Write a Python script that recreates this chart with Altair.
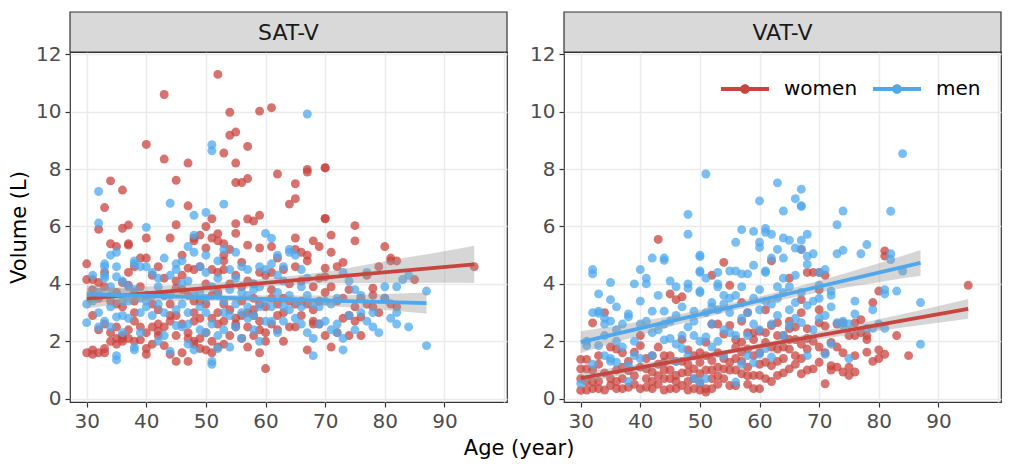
import altair as alt
import pandas as pd

RED = "#C8443F"
BLUE = "#4FA8EC"
FONT = "DejaVu Sans"

panels = ["SAT-V", "VAT-V"]
sexes = ["women", "men"]

sat_women = [
    (30,4.7),(30,4.15),(31,4.15),(32,4.05),(30,1.6),(31,1.7),(32,1.6),(33,1.75),(31,1.55),(33,1.6),
    (32,2.4),(33,2.6),(34,2.3),(35,2.1),(34,3.4),(33,3.9),(32,3.5),(35,2.5),(32,5.9),(33,6.66),
    (34,7.59),(31,2.9),(35,3.3),(34,2.0),(36,5.94),(37,6.05),(36,7.27),(37,5.4),(37,5.35),(36,4.05),
    (37,3.95),(38,2.7),(38,3.0),(37,2.4),(36,2.2),(37,2.1),(38,2.0),(39,2.05),(39,4.9),(38,4.6),
    (36,2.1),(39,3.9),(38,3.4),(35,1.9),(36,2.0),(35,5.3),
    (40,8.86),(40,5.6),(40,4.9),(41,4.3),(40,2.3),(40,1.55),(40,1.75),(41,1.9),(42,2.2),(42,2.6),
    (43,8.35),(43,10.6),(42,3.1),(43,3.6),(44,2.9),(44,1.55),(43,1.85),(44,5.6),(42,2.35),(41,3.3),
    (45,3.85),(45,4.1),(45,2.2),(45,1.3),(45,7.61),(45,6.06),(44,2.7),(43,2.5),(46,5.0),(46,1.6),
    (47,1.3),(47,2.1),(47,2.3),(48,1.9),(48,2.0),(48,2.7),(49,2.1),(47,8.21),(47,6.72),(48,5.5),
    (48,5.6),(49,5.7),(49,3.4),(48,4.5),(47,4.55),(46,2.6),(49,2.8),(49,1.75),(46,3.8),(48,3.0),
    (50,1.7),(50,2.3),(50,4.0),(50,6.0),(50,5.25),(51,6.27),(51,5.6),(52,5.75),(52,5.5),(52,11.3),
    (53,8.56),(53,5.4),(53,5.0),(53,4.8),(53,4.5),(52,4.4),(51,4.5),(51,3.6),(52,3.0),(53,2.7),
    (51,2.0),(51,1.6),(52,2.6),(53,1.9),(54,9.18),(54,9.98),(55,9.29),(55,8.21),(55,7.53),(56,7.53),
    (55,6.1),(55,5.76),(54,4.0),(54,3.1),(54,2.2),(55,2.6),(55,2.8),(55,2.5),(52,1.8),(57,8.79),
    (57,7.67),(57,6.26),(58,6.19),(59,6.39),(59,10.02),(57,5.35),(56,4.75),(57,4.1),(57,2.5),(56,2.1),
    (57,1.8),(58,3.1),(58,2.9),(59,2.7),(59,2.4),(59,1.6),(58,3.5),(56,3.9),(59,5.25),(58,4.0),
    (59,3.3),(56,2.9),
    (61,10.14),(60,1.05),(60,2.0),(60,2.3),(61,2.6),(62,2.4),(62,3.3),(61,5.3),(62,7.83),(61,3.8),
    (63,2.0),(64,2.5),(64,6.78),(65,7.49),(65,6.97),(65,5.6),(65,5.2),(65,4.6),(65,3.3),(64,4.0),
    (63,3.5),(62,4.9),(60,4.3),(61,3.5),(67,7.99),(67,7.9),(66,3.4),(66,4.1),(67,1.7),(68,2.7),
    (68,2.6),(69,2.6),(68,5.5),(69,5.3),(67,5.0),(67,4.8),(70,8.05),(70,8.04),(70,6.28),(70,6.27),
    (70,4.55),(70,4.25),(70,3.7),(70,2.2),(68,3.9),(69,3.4),(63,3.0),(66,2.9),
    (71,5.7),(71,5.1),(71,1.8),(72,4.6),(72,2.3),(73,4.75),(73,3.5),(74,2.2),(74,2.9),(75,6.03),
    (75,5.5),(75,3.2),(75,2.7),(76,2.2),(76,2.85),(76,3.5),(78,3.6),(78,3.85),(78,3.2),(79,4.6),
    (80,5.3),(80,3.5),(81,4.9),(81,4.8),(82,4.8),(81,3.3),(77,3.3),(85,4.15),(95,4.6),(82,3.2),
    (31,3.8),(33,4.4),(34,5.4),(35,3.7),(36,3.2),(37,4.4),(38,3.7),(39,2.5),(40,3.6),(41,2.5),
    (42,4.6),(43,4.2),(44,3.3),(45,2.9),(46,4.3),(47,3.6),(48,3.4),(49,4.6),(50,3.3),(51,2.8),
    (52,3.7),(53,3.3),(54,5.2),(55,4.3),(56,3.4),(57,3.0),(58,2.2),(59,4.4),(60,3.2),(61,4.4),
    (62,2.9),(63,4.5),(64,3.4),(65,2.5),(66,5.1),(67,3.3),(68,3.1),(69,4.2),(71,3.9),(72,3.4),
    (73,2.8),(74,3.8),(77,4.3),(79,3.0),
]

sat_men = [
    (30,2.65),(31,3.4),(32,7.22),(32,6.12),(32,3.0),(32,2.5),(33,4.3),(33,4.7),(33,4.6),(33,4.2),
    (34,5.0),(34,3.6),(34,3.2),(35,4.6),(35,4.25),(35,5.1),(35,1.5),(35,1.35),(35,2.85),(31,3.5),
    (33,2.7),(34,2.5),(32,3.7),
    (36,4.1),(36,3.4),(37,3.9),(38,4.8),(38,4.7),(38,1.7),(38,1.8),(38,3.8),(39,4.6),(39,3.5),
    (40,5.97),(40,4.6),(40,3.4),(37,2.8),(36,2.3),(39,2.3),(40,3.2),
    (41,4.4),(42,4.2),(42,3.9),(42,2.0),(43,3.0),(43,2.2),(44,6.81),(44,3.6),(44,1.65),(45,4.7),
    (45,4.5),(45,3.1),(45,2.55),(43,4.9),(41,2.9),(42,3.3),
    (46,4.0),(46,2.5),(47,5.3),(47,3.0),(47,2.6),(48,5.7),(48,5.1),(48,3.6),(48,6.39),(48,1.7),
    (49,2.4),(49,4.6),(50,6.49),(50,5.0),(50,4.4),(50,3.0),(50,2.3),(46,3.3),(49,3.2),(47,1.9),
    (51,8.85),(51,8.64),(51,1.3),(51,1.2),(52,2.2),(52,1.75),(52,3.6),(53,6.78),(53,5.2),(53,3.4),
    (53,2.4),(54,3.8),(54,1.8),(55,3.3),(55,4.2),(55,5.1),(52,4.8),(54,2.9),(51,3.9),
    (56,2.1),(56,3.0),(57,3.6),(57,2.8),(58,4.0),(58,2.4),(59,4.6),(59,3.2),(59,2.0),(60,5.76),
    (60,4.5),(60,3.4),(60,2.7),(56,4.6),(58,3.8),(57,4.5),
    (61,5.59),(61,4.7),(61,2.7),(62,5.0),(62,3.7),(63,4.6),(63,3.2),(64,5.2),(64,5.1),(64,3.1),
    (65,5.0),(65,2.8),(62,2.3),(63,4.1),
    (66,2.6),(66,4.5),(67,9.92),(67,3.6),(67,2.3),(68,3.3),(68,2.1),(68,1.5),(69,3.2),(70,2.7),
    (70,3.4),(66,3.9),
    (71,2.4),(72,2.6),(72,2.3),(73,2.1),(73,1.7),(73,4.4),(74,4.1),(75,3.8),(75,2.4),(76,3.6),
    (77,4.4),(78,3.0),(78,2.5),(79,2.3),(81,2.8),(82,3.9),(82,3.0),(82,2.6),(83,4.15),(84,4.3),
    (84,2.5),(87,3.75),(87,1.85),(80,3.5),
    (30,3.3),(31,4.3),(34,3.9),(36,2.9),(37,3.4),(39,3.0),(41,3.6),(43,3.6),(44,4.3),(46,4.8),
    (47,4.1),(49,3.7),(50,3.5),(51,2.6),(52,4.2),(53,3.0),(54,4.5),(55,2.5),(56,3.7),(57,3.2),
    (58,2.9),(59,3.9),(61,3.2),(62,4.3),(63,2.7),(64,3.6),(65,3.4),(66,3.2),(67,4.2),(69,2.6),
    (71,3.3),(72,3.5),(74,2.9),(76,3.0),(77,2.7),(80,3.9),
]

vat_women = [
    (30,0.29),(30,0.7),(30,1.04),(30,1.37),(31,1.37),(31,1.04),(32,0.35),(33,0.35),(32,0.58),(32,2.64),
    (33,1.5),(34,3.0),(35,0.46),(36,0.35),(37,0.35),(36,1.73),(37,0.7),(37,1.6),(38,0.98),(39,1.62),
    (40,0.35),(40,1.85),(40,2.2),(41,0.7),(41,1.04),(42,0.35),(42,0.93),(43,5.55),(43,1.8),(43,1.2),
    (44,0.7),(44,1.27),(44,1.5),(45,0.35),(45,0.7),(45,3.65),(46,3.45),(46,0.35),(46,0.81),(47,3.55),
    (47,2.06),(47,0.46),(48,0.93),(48,1.2),(49,0.35),(49,0.7),(49,1.04),(49,1.5),(50,0.87),(50,1.27),
    (51,0.23),(51,0.35),(51,1.97),(52,4.3),(52,2.6),(52,1.33),(53,2.6),(53,1.1),(54,4.75),(54,2.25),
    (54,1.04),(55,3.95),(55,2.55),(55,1.27),(55,0.46),(56,2.06),(56,0.46),(57,3.35),(57,2.7),(57,1.97),
    (57,1.62),(57,0.87),(58,3.0),(58,2.3),(58,1.73),(59,2.3),(59,2.06),(59,0.81),(59,0.35),(60,2.35),
    (60,0.81),(60,0.35),(61,3.1),(61,1.96),(61,1.27),(61,0.7),(62,4.8),(62,2.55),(62,1.15),(63,2.65),
    (63,1.73),(63,0.81),(64,1.4),(64,2.2),(65,4.2),(65,2.7),(65,2.44),(65,2.06),(65,1.73),(65,1.04),
    (66,2.06),(66,1.5),(67,5.2),(67,3.45),(67,3.0),(67,1.4),(67,0.87),(68,4.4),(68,2.44),(68,1.73),
    (69,4.4),(69,1.04),(70,4.4),(70,3.8),(70,3.1),(70,2.64),(70,1.27),(71,4.3),(71,2.53),(71,0.52),
    (72,1.96),(72,1.15),(73,1.1),(74,2.64),(74,0.93),(75,2.2),(75,0.81),(76,2.64),(76,1.5),(76,0.93),
    (77,2.75),(77,2.3),(78,2.06),(78,1.62),(79,3.35),(80,3.75),(80,1.7),(80,1.4),(81,5.15),(81,4.97),
    (81,1.55),(83,2.2),(85,1.5),(95,3.95),
    (31,0.3),(33,0.6),(34,0.3),(34,0.9),(35,1.8),(36,1.0),(38,0.4),(38,1.3),(39,0.5),(41,0.4),
    (42,1.5),(43,0.5),(44,0.3),(45,1.0),(46,1.3),(47,0.9),(48,0.3),(48,0.6),(50,0.3),(50,0.55),
    (51,1.0),(52,0.7),(52,0.35),(53,0.5),(53,1.6),(54,0.7),(56,1.0),(56,1.4),(58,0.5),(58,1.1),
    (59,1.5),(60,1.2),(62,0.6),(62,1.8),(63,2.2),(64,0.9),(66,1.2),(68,1.0),(69,2.0),(72,1.0),
    (73,2.6),(75,1.1),(76,2.2),(78,2.2),(79,1.3),
    (31,0.6),(32,1.0),(33,1.2),(35,0.7),(36,0.6),(37,1.1),(39,0.8),(40,1.1),(41,1.4),(42,0.6),
    (43,0.8),(44,1.0),(45,1.5),(46,0.6),(47,1.3),(48,1.7),(50,1.6),(51,1.5),(52,1.0),(53,0.8),
    (54,1.4),(55,1.0),(56,1.8),(57,1.3),(58,0.8),(60,1.6),(61,2.3),(63,1.3),(64,1.8),(66,2.5),
    (67,1.9),(68,2.1),(70,1.8),(71,1.6),(73,1.8),(74,1.6),
]

vat_men = [
    (84,8.54),(51,7.83),(63,7.52),(67,7.3),(66,6.97),(67,6.72),(67,6.7),(60,6.89),(48,6.42),(64,6.54),
    (74,6.54),(82,6.53),(73,6.06),(48,5.73),(57,5.89),(59,5.83),(61,5.93),(61,5.8),(62,5.73),(68,5.73),
    (64,5.6),(65,5.52),(67,5.52),(56,5.45),(60,5.45),(63,5.2),(78,5.37),(77,5.05),(73,5.05),(74,5.17),
    (69,5.05),(68,4.96),(68,4.68),(67,5.2),(66,5.25),(64,4.9),(62,4.9),(60,5.27),(50,5.0),(50,4.95),
    (42,4.9),(44,4.9),(44,4.82),(40,4.5),(41,4.2),(41,4.0),(39,4.0),(35,4.05),(33,3.65),(33,3.05),
    (33,2.98),(32,4.5),(32,4.35),(35,3.45),(36,3.2),(34,2.6),(35,2.7),(34,2.8),(38,2.95),(38,2.85),
    (40,2.6),(42,3.05),(44,3.05),(45,4.1),(46,3.9),(48,4.0),(48,3.85),(49,3.05),(50,3.75),(50,3.7),
    (50,4.45),(50,4.4),(51,4.2),(52,3.2),(52,3.35),(53,4.4),(53,4.0),(53,3.9),(54,3.6),(55,4.45),
    (56,4.45),(57,4.35),(58,4.35),(59,4.65),(60,3.8),(61,4.4),(61,4.45),(63,3.9),(64,3.7),(65,3.1),
    (66,3.35),(67,3.7),(68,3.25),(70,3.5),(70,3.95),(71,4.5),(72,3.75),(72,3.6),(76,2.95),(81,3.65),
    (81,3.8),(82,5.05),(82,4.85),(83,3.75),(84,4.45),(87,3.35),(87,1.9),(81,2.45),(75,1.4),(71,1.55),
    (72,1.9),(68,1.5),
    (30,0.53),(31,1.85),(33,1.85),(35,1.3),(35,1.4),(36,1.27),(38,1.16),(38,0.6),(40,1.4),(42,1.5),
    (44,2.05),(45,2.1),(46,1.9),(47,1.75),(48,1.5),(49,0.7),(50,0.58),(51,0.7),(51,2.15),(53,2.0),
    (54,1.5),(56,0.58),(57,1.2),(58,1.5),(59,1.25),(60,1.55),(61,1.75),(62,1.45),(64,2.2),(65,2.55),
    (67,2.65),(70,2.8),(73,2.65),(74,2.55),(78,2.45),(79,2.45),
    (31,2.0),(32,1.2),(34,2.2),(36,2.4),(37,1.8),(39,2.0),(41,2.7),(43,2.4),(45,2.7),(46,2.9),
    (47,3.2),(48,2.5),(49,2.2),(51,3.0),(52,2.6),(54,3.3),(55,2.3),(55,3.0),(56,3.6),(57,2.8),
    (58,3.0),(59,2.6),(60,3.1),(62,3.3),(63,2.9),(65,3.9),(66,2.8),(69,2.4),(71,2.9),(74,2.7),
    (75,2.6),(80,2.6),
    (32,3.0),(34,1.5),(36,2.0),(37,2.6),(39,1.5),(40,3.4),(42,2.3),(43,3.6),(44,2.6),(46,1.3),
    (47,2.2),(49,2.7),(50,2.0),(52,1.8),(53,3.1),(54,2.4),(55,3.5),(56,2.2),(57,3.9),(58,2.2),
    (59,3.5),(60,2.4),(61,3.4),(62,2.6),(63,3.5),(64,4.2),(66,4.3),(69,3.4),(70,4.4),(72,3.2),
    (76,3.4),(79,3.1),
]

# fitted lines (age range, fitted volume) and confidence bands
fit_age_women = [30, 95]
fit_age_men = [30, 87]
sat_fit_women = [3.49, 4.68]
sat_fit_men = [3.64, 3.33]
vat_fit_women = [0.72, 3.13]
vat_fit_men = [1.97, 4.73]

band_age_women = [30, 40, 50, 60, 70, 80, 90, 95]
band_age_men = [30, 40, 50, 60, 70, 80, 87]
sat_band_women_lo = [3.14, 3.43, 3.70, 3.90, 4.02, 4.03, 4.04, 4.03]
sat_band_women_hi = [3.84, 3.91, 4.02, 4.18, 4.42, 4.79, 5.14, 5.33]
sat_band_men_lo = [3.34, 3.41, 3.41, 3.36, 3.24, 3.09, 2.96]
sat_band_men_hi = [3.94, 3.77, 3.65, 3.60, 3.60, 3.65, 3.70]
vat_band_women_lo = [0.52, 0.96, 1.37, 1.74, 2.07, 2.37, 2.65, 2.79]
vat_band_women_hi = [0.92, 1.22, 1.55, 1.92, 2.33, 2.77, 3.23, 3.47]
vat_band_men_lo = [1.59, 2.21, 2.79, 3.28, 3.71, 4.06, 4.28]
vat_band_men_hi = [2.35, 2.69, 3.09, 3.56, 4.11, 4.72, 5.18]

x_ticks = list(range(30, 101, 5))
y_ticks = list(range(0, 13, 1))

X_DOMAIN = [27.2, 100.5]
Y_DOMAIN = [-0.115, 12.08]
W, H = 437, 350

LEGEND_PATH = ("M-1,-0.085 L1,-0.085 L1,0.085 L-1,0.085 Z "
               "M0.2,0 A0.2,0.2 0 1,1 -0.2,0 A0.2,0.2 0 1,1 0.2,0 Z")


def x_enc():
    return alt.X(
        "age:Q",
        scale=alt.Scale(domain=X_DOMAIN, nice=False, zero=False),
        axis=alt.Axis(
            title=None, values=x_ticks, labelFlush=False, labelOverlap=False,
            labelExpr="datum.value % 10 == 0 && datum.value <= 90 ? datum.label : ''",
            tickOpacity={"condition": {"test": "datum.value % 10 == 0 && datum.value <= 90", "value": 1}, "value": 0},
            gridWidth={"condition": {"test": "datum.value % 10 == 0", "value": 1.5}, "value": 0.7},
        ),
    )


def y_enc(show_title):
    kw = dict(title="Volume (L)") if show_title else dict(title=None)
    return alt.Y(
        "vol:Q",
        scale=alt.Scale(domain=Y_DOMAIN, nice=False, zero=False),
        axis=alt.Axis(
            values=y_ticks, labelFlush=False, labelOverlap=False,
            labelExpr="datum.value % 2 == 0 ? datum.label : ''",
            tickOpacity={"condition": {"test": "datum.value % 2 == 0", "value": 1}, "value": 0},
            gridWidth={"condition": {"test": "datum.value % 2 == 0", "value": 1.5}, "value": 0.7},
            **kw,
        ),
    )


def panel(name, women, men, fw, fm, bwl, bwh, bml, bmh, show_title, show_legend):
    pts = pd.DataFrame(
        [{"age": a, "vol": v, "sex": "women"} for a, v in women]
        + [{"age": a, "vol": v, "sex": "men"} for a, v in men]
    )
    if show_legend:
        legend = alt.Legend(
            title=None, orient="none", legendX=157, legendY=13, direction="horizontal",
            symbolType=LEGEND_PATH, symbolSize=2304, symbolStrokeWidth=0, symbolOpacity=1,
            labelFontSize=20, labelColor="black", labelFont=FONT, labelOffset=15, columnPadding=15,
        )
    else:
        legend = None
    points = alt.Chart(pts).mark_circle(size=80, opacity=0.75).encode(
        x=x_enc(), y=y_enc(show_title),
        color=alt.Color("sex:N", scale=alt.Scale(domain=sexes, range=[RED, BLUE]), legend=legend),
    )
    bw = pd.DataFrame({"age": band_age_women, "lo": bwl, "hi": bwh})
    bm = pd.DataFrame({"age": band_age_men, "lo": bml, "hi": bmh})
    band_w = alt.Chart(bw).mark_area(color="#999999", opacity=0.4, interpolate="monotone").encode(
        x="age:Q", y="lo:Q", y2="hi:Q")
    band_m = alt.Chart(bm).mark_area(color="#999999", opacity=0.4, interpolate="monotone").encode(
        x="age:Q", y="lo:Q", y2="hi:Q")
    lw = pd.DataFrame({"age": fit_age_women, "vol": fw})
    lm = pd.DataFrame({"age": fit_age_men, "vol": fm})
    line_w = alt.Chart(lw).mark_line(color=RED, strokeWidth=3.8).encode(x="age:Q", y="vol:Q")
    line_m = alt.Chart(lm).mark_line(color=BLUE, strokeWidth=3.8).encode(x="age:Q", y="vol:Q")
    strip_df = pd.DataFrame({"panel": [name]})
    strip = alt.Chart(strip_df).mark_rect(fill="#D9D9D9", stroke="#333333", strokeWidth=1.2).encode(
        x=alt.value(0), x2=alt.value(W), y=alt.value(-40), y2=alt.value(0))
    strip_text = alt.Chart(strip_df).mark_text(fontSize=22, font=FONT, color="#1A1A1A", baseline="middle").encode(
        x=alt.value(W / 2), y=alt.value(-19), text="panel:N")
    return alt.layer(points, band_w, band_m, line_w, line_m, strip, strip_text).properties(width=W, height=H)


left = panel(panels[0], sat_women, sat_men, sat_fit_women, sat_fit_men,
             sat_band_women_lo, sat_band_women_hi, sat_band_men_lo, sat_band_men_hi, True, False)
right = panel(panels[1], vat_women, vat_men, vat_fit_women, vat_fit_men,
              vat_band_women_lo, vat_band_women_hi, vat_band_men_lo, vat_band_men_hi, False, True)

chart = (
    alt.hconcat(left, right, spacing=19)
    .resolve_legend(color="independent")
    .properties(
        title=alt.TitleParams("Age (year)", orient="bottom", anchor="middle", fontSize=21,
                              fontWeight="normal", color="black", font=FONT, offset=6, dx=14),
        padding={"left": 7, "top": 10, "right": 5, "bottom": 5},
    )
    .configure(font=FONT, background="white")
    .configure_view(stroke="#333333", strokeWidth=1.2)
    .configure_axis(
        labelFont=FONT, labelFontSize=20, labelColor="#4D4D4D", labelPadding=4,
        tickColor="#333333", tickSize=5, tickWidth=1.2, domain=False, gridColor="#EBEBEB",
        titleFont=FONT, titleFontSize=21, titleFontWeight="normal", titleColor="black", titlePadding=6,
    )
)

chart.save("out.html", embed_options={"renderer": "svg", "actions": False})
